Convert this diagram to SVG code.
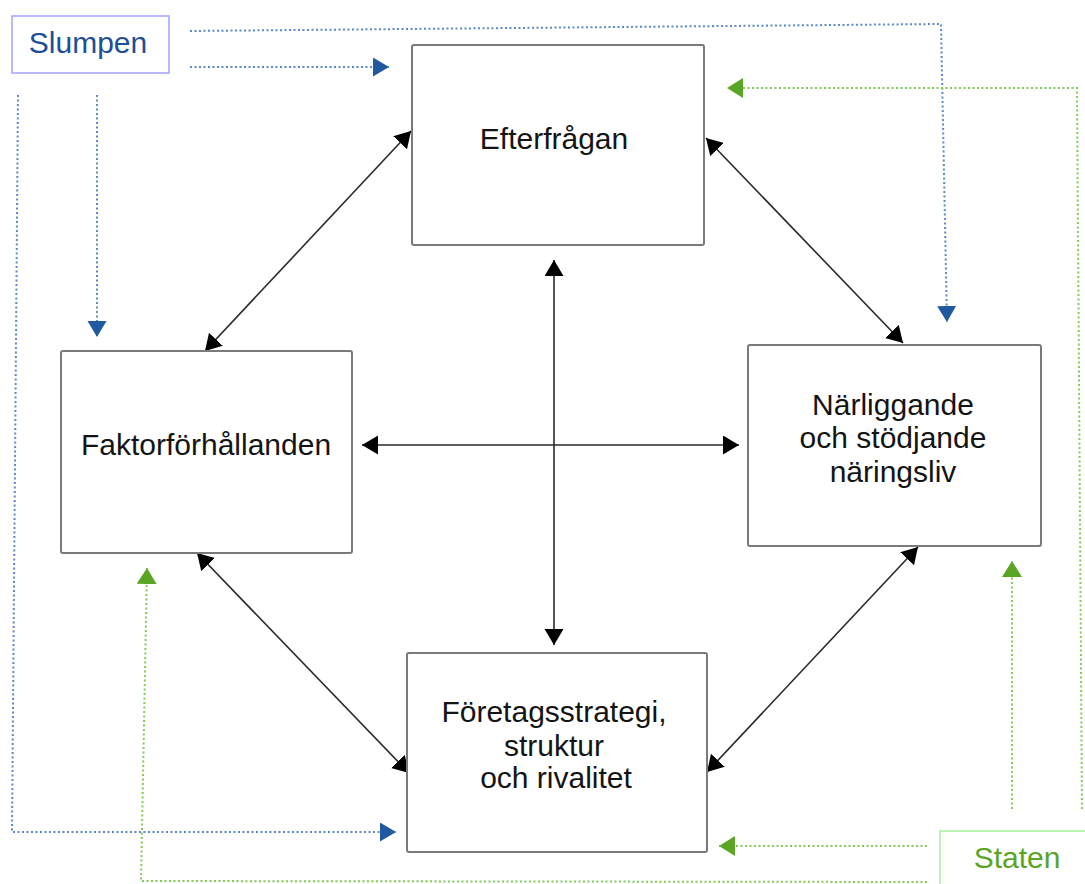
<svg xmlns="http://www.w3.org/2000/svg" width="1085" height="884" viewBox="0 0 1085 884">
  <style>
    .box { fill: #ffffff; stroke: #7a7a7a; stroke-width: 2; }
    .lbl { font-family: "Liberation Sans", Arial, sans-serif; font-size: 30px; fill: #141414; text-anchor: middle; }
    .blk { fill: none; stroke: #2a2a2a; stroke-width: 1.6; marker-start: url(#ab); marker-end: url(#ab); }
    .bdot { fill: none; stroke: #5a8acb; stroke-width: 2; stroke-dasharray: 2 2.5; marker-end: url(#abl); }
    .gdot { fill: none; stroke: #82cc55; stroke-width: 2; stroke-dasharray: 2 2.5; marker-end: url(#agr); }
  </style>
  <defs>
    <marker id="ab" markerUnits="userSpaceOnUse" markerWidth="18" markerHeight="20" refX="16" refY="9.5" orient="auto-start-reverse" viewBox="0 0 18 20">
      <path d="M0,0 L16,9.5 L0,19 z" fill="#000"/>
    </marker>
    <marker id="abl" markerUnits="userSpaceOnUse" markerWidth="18" markerHeight="20" refX="16" refY="9.5" orient="auto" viewBox="0 0 18 20">
      <path d="M0,0 L16,9.5 L0,19 z" fill="#1f5aa0"/>
    </marker>
    <marker id="agr" markerUnits="userSpaceOnUse" markerWidth="18" markerHeight="22" refX="16" refY="10" orient="auto" viewBox="0 0 18 22">
      <path d="M0,0 L16,10 L0,20 z" fill="#5aa524"/>
    </marker>
  </defs>

  <g id="connectors">
    <line class="blk" x1="411" y1="131" x2="205" y2="351"/>
    <line class="blk" x1="706" y1="138" x2="903" y2="343"/>
    <line class="blk" x1="197" y1="553" x2="409" y2="773"/>
    <line class="blk" x1="918" y1="547" x2="707" y2="772"/>
    <line class="blk" x1="554" y1="260" x2="554" y2="645"/>
    <line class="blk" x1="362" y1="445" x2="739" y2="445"/>

    <path class="bdot" d="M190,31 L941,24 L947,322"/>
    <path class="bdot" d="M190,67 L389,67"/>
    <path class="bdot" d="M97,95 L97,337"/>
    <path class="bdot" d="M18,95 L12,832 L396,832"/>

    <path class="gdot" d="M1012,809 L1012,561"/>
    <path class="gdot" d="M1082,809 L1077,88 L727,88"/>
    <path class="gdot" d="M927,846 L719,846"/>
    <path class="gdot" d="M927,882 L141,881 L147,568"/>
  </g>

  <g id="slumpen">
    <rect x="12" y="16" width="157" height="57" fill="#fff" stroke="#a3a3ff" stroke-width="1.5"/>
    <text class="lbl" x="88" y="53" style="fill:#1c4f96">Slumpen</text>
  </g>

  <g id="efterfragan">
    <rect class="box" x="412" y="45" width="292" height="200" rx="2"/>
    <text class="lbl" x="554" y="149">Efterfrågan</text>
  </g>

  <g id="faktor">
    <rect class="box" x="61" y="351" width="291" height="202" rx="2"/>
    <text class="lbl" x="206" y="455">Faktorförhållanden</text>
  </g>

  <g id="narliggande">
    <rect class="box" x="748" y="345" width="293" height="201" rx="2"/>
    <text class="lbl" x="893" y="415">Närliggande</text>
    <text class="lbl" x="893" y="448">och stödjande</text>
    <text class="lbl" x="893" y="482">näringsliv</text>
  </g>

  <g id="foretag">
    <rect class="box" x="407" y="653" width="300" height="199" rx="2"/>
    <text class="lbl" x="554" y="722">Företagsstrategi,</text>
    <text class="lbl" x="554" y="756">struktur</text>
    <text class="lbl" x="556" y="788">och rivalitet</text>
  </g>

  <g id="staten">
    <rect x="940" y="831" width="160" height="70" fill="#fff" stroke="#a6ee9a" stroke-width="1.5"/>
    <text class="lbl" x="1017" y="868" style="fill:#5aa524">Staten</text>
  </g>
</svg>
